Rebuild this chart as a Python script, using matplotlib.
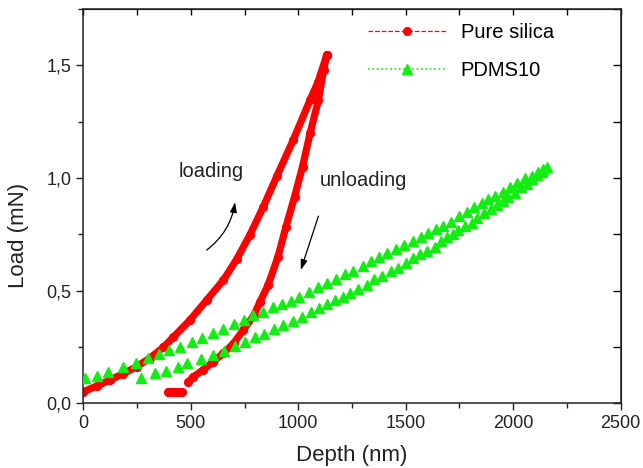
import numpy as np
import matplotlib.pyplot as plt
import matplotlib.ticker as ticker
from matplotlib.lines import Line2D

plt.rcParams['font.family'] = ['Liberation Sans', 'DejaVu Sans']

# pure silica: loading branch (depth in nm, load in mN)
silica_load_depth = [0, 62, 124, 186, 249, 310, 372, 419, 497, 574, 652, 714, 776, 838, 901, 977, 1055, 1092, 1133]
silica_load_force = [0.051, 0.077, 0.103, 0.132, 0.163, 0.201, 0.248, 0.294, 0.370, 0.458, 0.547, 0.640, 0.749, 0.873, 1.009, 1.169, 1.346, 1.426, 1.546]
# pure silica: unloading branch
silica_unload_depth = [1133, 1118, 1094, 1055, 1020, 983, 943, 906, 860, 822, 792, 745, 699, 652, 605, 558, 512, 489]
silica_unload_force = [1.546, 1.479, 1.346, 1.198, 1.050, 0.917, 0.784, 0.651, 0.525, 0.450, 0.388, 0.326, 0.266, 0.222, 0.185, 0.148, 0.118, 0.095]
# last few points after the tip lifts off
silica_tail_depth = [396, 411, 427, 442, 458]
silica_tail_force = [0.050, 0.050, 0.051, 0.051, 0.052]

# PDMS10 loading
pdms_load_depth = [8, 65, 116, 186, 245, 300, 354, 400, 450, 504, 551, 602, 649, 701, 748, 791, 838, 884, 923, 965,
                   1005, 1052, 1094, 1136, 1176, 1218, 1257, 1300, 1339, 1378, 1415, 1455, 1494, 1536, 1570, 1606,
                   1641, 1675, 1711, 1750, 1784, 1820, 1854, 1885, 1916, 1952, 1986, 2020, 2056, 2087, 2118, 2141, 2159]
pdms_load_force = [0.111, 0.121, 0.140, 0.160, 0.180, 0.200, 0.217, 0.237, 0.251, 0.271, 0.288, 0.311, 0.328, 0.351,
                   0.370, 0.390, 0.407, 0.426, 0.439, 0.455, 0.473, 0.493, 0.516, 0.533, 0.552, 0.573, 0.588, 0.609,
                   0.632, 0.651, 0.668, 0.686, 0.704, 0.722, 0.737, 0.757, 0.772, 0.788, 0.806, 0.831, 0.850, 0.873,
                   0.888, 0.907, 0.920, 0.939, 0.961, 0.976, 0.999, 1.009, 1.028, 1.040, 1.050]
# PDMS10 unloading
pdms_unload_depth = [2133, 2110, 2087, 2064, 2036, 2009, 1978, 1952, 1924, 1896, 1865, 1834, 1808, 1776, 1745, 1719,
                     1691, 1663, 1637, 1598, 1567, 1536, 1502, 1466, 1431, 1392, 1353, 1319, 1280, 1241, 1207, 1171,
                     1136, 1098, 1058, 1016, 975, 931, 888, 841, 799, 753, 706, 655, 602, 546, 481, 439, 385, 334, 269]
pdms_unload_force = [1.028, 1.013, 0.994, 0.972, 0.959, 0.935, 0.917, 0.898, 0.880, 0.862, 0.843, 0.821, 0.801,
                     0.787, 0.769, 0.750, 0.737, 0.722, 0.695, 0.677, 0.661, 0.644, 0.621, 0.602, 0.587, 0.565,
                     0.550, 0.525, 0.507, 0.491, 0.473, 0.458, 0.439, 0.422, 0.404, 0.384, 0.365, 0.347, 0.328,
                     0.309, 0.293, 0.273, 0.254, 0.233, 0.214, 0.197, 0.180, 0.160, 0.145, 0.133, 0.114]

x_ticks = [0, 500, 1000, 1500, 2000, 2500]
y_ticks = [0.0, 0.5, 1.0, 1.5]
y_ticklabels = ['0,0', '0,5', '1,0', '1,5']

red = '#ff0000'
green = '#12ee12'

fig = plt.figure(figsize=(6.43, 4.68), dpi=100)
ax = fig.add_axes([0.1296, 0.1382, 0.8355, 0.8425])

for xs, ys in [(silica_load_depth, silica_load_force),
               (silica_unload_depth, silica_unload_force),
               (silica_tail_depth, silica_tail_force)]:
    ax.plot(xs, ys, color=red, lw=5.2, marker='o', ms=5.6, solid_capstyle='round', zorder=2)

ax.plot(pdms_load_depth, pdms_load_force, ls='none', marker='^', ms=6.5, color=green, mec=green, zorder=3)
ax.plot(pdms_unload_depth, pdms_unload_force, ls='none', marker='^', ms=6.5, color=green, mec=green, zorder=3)

ax.set_xlim(0, 2500)
ax.set_ylim(0, 1.75)
ax.xaxis.set_major_locator(ticker.FixedLocator(x_ticks))
ax.xaxis.set_minor_locator(ticker.MultipleLocator(250))
ax.yaxis.set_major_locator(ticker.FixedLocator(y_ticks))
ax.yaxis.set_major_formatter(ticker.FixedFormatter(y_ticklabels))
ax.yaxis.set_minor_locator(ticker.MultipleLocator(0.25))
ax.tick_params(which='both', direction='out', labelsize=13, width=1, colors='#222222')
ax.tick_params(which='major', length=5)
ax.tick_params(which='minor', length=3.5)
for s in ax.spines.values():
    s.set_linewidth(1.1)
    s.set_color('#222222')

# mirrored ticks pointing inward on top and right
top = ax.secondary_xaxis('top')
top.xaxis.set_major_locator(ticker.FixedLocator(x_ticks))
top.xaxis.set_minor_locator(ticker.MultipleLocator(250))
top.tick_params(which='both', direction='in', labeltop=False, length=4, width=1)
right = ax.secondary_yaxis('right')
right.yaxis.set_major_locator(ticker.FixedLocator(y_ticks))
right.yaxis.set_minor_locator(ticker.MultipleLocator(0.25))
right.tick_params(which='both', direction='in', labelright=False, length=6, width=1)

ax.set_xlabel('Depth (nm)', fontsize=16, labelpad=9, color='#222222')
ax.set_ylabel('Load (mN)', fontsize=16, color='#222222')
ax.yaxis.set_label_coords(-0.101, 0.427)

ax.text(594, 1.027, 'loading', fontsize=14.5, ha='center', va='center', color='#222222')
ax.text(1304, 0.991, 'unloading', fontsize=14.5, ha='center', va='center', color='#222222')
ax.annotate('', xy=(706, 0.893), xytext=(574, 0.680),
            arrowprops=dict(arrowstyle='-|>,head_length=0.6,head_width=0.2', color='black', lw=0.9,
                            connectionstyle='arc3,rad=0.2', shrinkA=0, shrinkB=0))
ax.annotate('', xy=(1012, 0.592), xytext=(1094, 0.831),
            arrowprops=dict(arrowstyle='-|>,head_length=0.6,head_width=0.2', color='black', lw=0.9,
                            shrinkA=0, shrinkB=0))

handles = [Line2D([], [], color=red, ls='--', lw=0.9, marker='o', ms=5.5),
           Line2D([], [], color=green, ls=':', lw=1.2, marker='^', ms=6.5)]
ax.legend(handles, ['Pure silica', 'PDMS10'], loc='upper left', bbox_to_anchor=(0.530, 0.965),
          frameon=False, fontsize=14.5, handlelength=3.9, handletextpad=0.7, labelspacing=0.95,
          numpoints=1, borderpad=0, borderaxespad=0)

fig.savefig('out.png', dpi=100)
